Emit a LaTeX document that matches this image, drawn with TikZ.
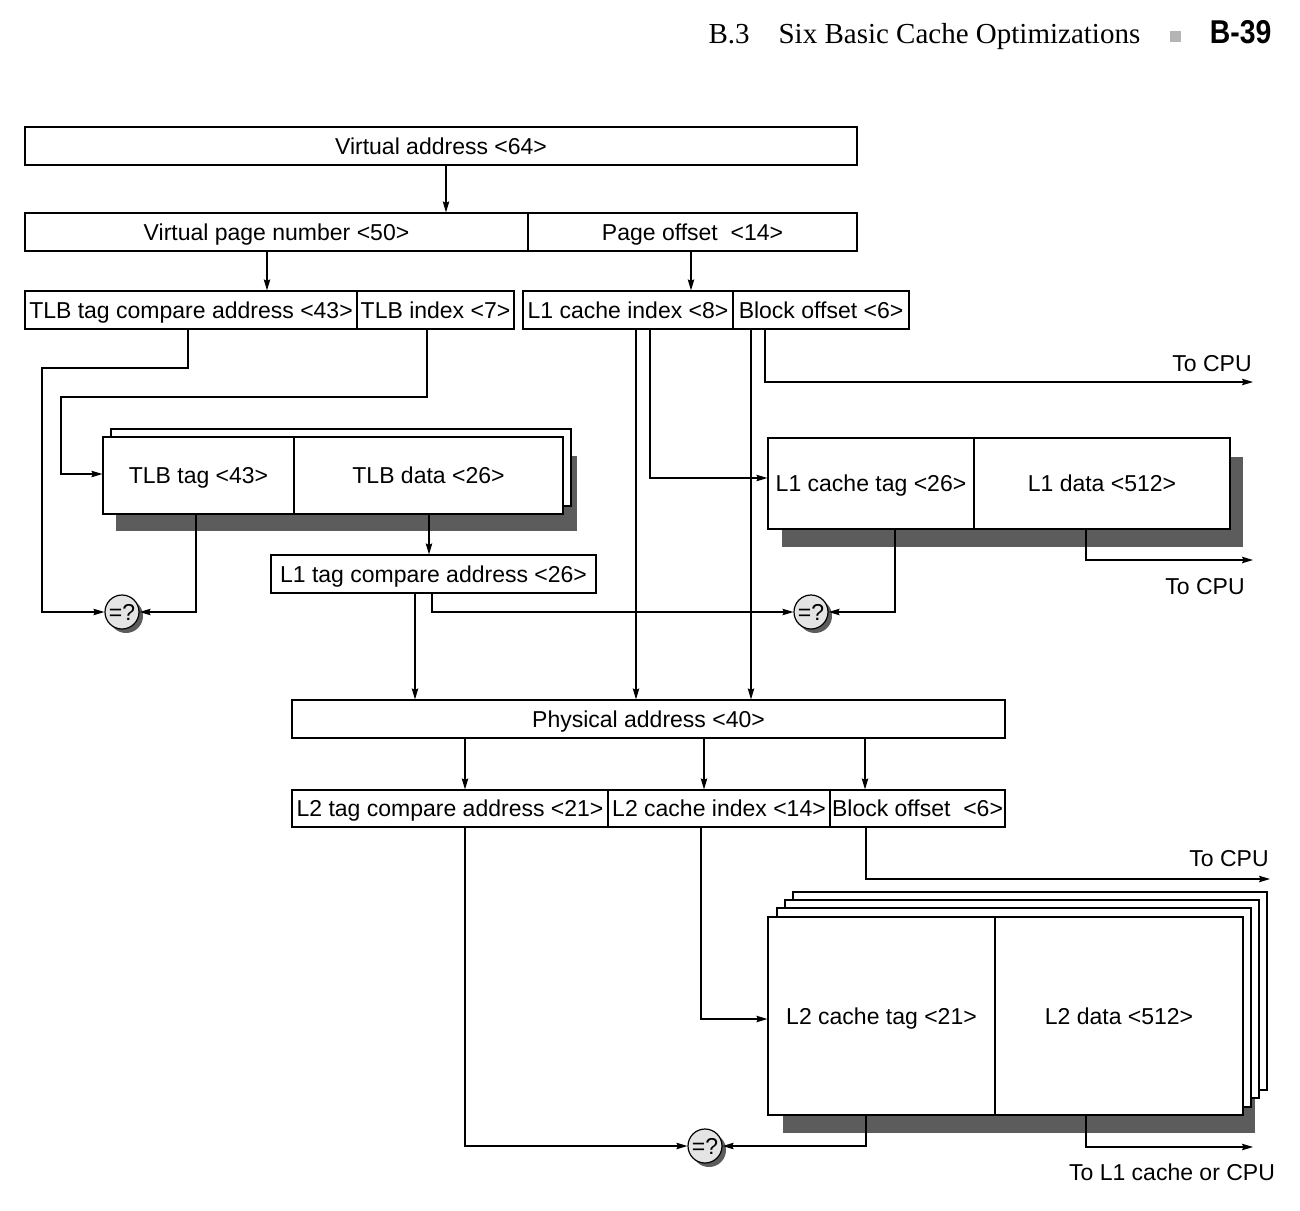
\documentclass[tikz,border=0pt]{standalone}
\usepackage{fontspec}
\setmainfont{Liberation Sans}
\newfontfamily\hdrserif{Liberation Serif}
\usetikzlibrary{arrows.meta}
\definecolor{shadowgray}{HTML}{5C5C5C}
\definecolor{cmpfill}{HTML}{E4E4E4}
\definecolor{sqgray}{HTML}{B4B4B4}
\newcommand\fieldbox[6]{%
  \node[fld, minimum width={(#4)-(#2)}, minimum height={(#5)-(#3)}] (#1) at ({((#2)+(#4))/2},{((#3)+(#5))/2}) {#6};}
\begin{document}
\begin{tikzpicture}[x=1pt,y=-1pt,line width=1.2pt,
  fld/.style={draw, fill=white, inner sep=0pt, text height=16.5pt, text depth=0pt, font=\fontsize{23}{27}\selectfont},
  arr/.style={-{Stealth[length=11pt,width=6.5pt,inset=1.5pt]}},
  cmp/.style={circle, draw, fill=cmpfill, minimum size=34pt, inner sep=0pt, text height=16.5pt, text depth=0pt, font=\fontsize{23}{27}\selectfont},
  lbl/.style={inner sep=0pt, text height=16.5pt, text depth=0pt, font=\fontsize{23}{27}\selectfont},
  hdr/.style={anchor=base west, inner sep=0pt, font=\hdrserif\fontsize{29}{33}\selectfont}]
\useasboundingbox (0,0) rectangle (1300,1210);
% header
\node[hdr] (sec) at (708,43) {B.3};
\node[hdr] (title) at (778,43) {Six Basic Cache Optimizations};
\fill[sqgray] (1170,31) rectangle (1181,42);
\node[anchor=base east, inner sep=0pt, font=\bfseries\fontsize{33}{37}\selectfont] (page) at (1272,43) {\scalebox{0.86}[1]{B-39}};
% address rows
\fieldbox{va}{25}{127}{857}{165}{Virtual address <64>}
\fieldbox{vpn}{25}{213}{528}{251}{Virtual page number <50>}
\fieldbox{po}{528}{213}{857}{251}{Page offset~ <14>}
\fieldbox{tca}{25}{291}{357}{329}{TLB tag compare address <43>}
\fieldbox{tlbi}{357}{291}{514}{329}{TLB index <7>}
\fieldbox{l1i}{523}{291}{733}{329}{L1 cache index <8>}
\fieldbox{bo}{733}{291}{909}{329}{Block offset <6>}
% TLB
\fill[shadowgray] (116,456) rectangle (577,531);
\draw[fill=white] (111,429) rectangle (571,506);
\fieldbox{tlbtag}{103}{437}{294}{514}{TLB tag <43>}
\fieldbox{tlbdata}{294}{437}{563}{514}{TLB data <26>}
% L1 cache
\fill[shadowgray] (782,457) rectangle (1243,547);
\fieldbox{l1tag}{768}{438}{974}{529}{L1 cache tag <26>}
\fieldbox{l1data}{974}{438}{1230}{529}{L1 data <512>}
\fieldbox{l1tca}{271}{555}{596}{593}{L1 tag compare address <26>}
% physical address
\fieldbox{pa}{292}{700}{1005}{738}{Physical address <40>}
\fieldbox{l2tca}{292}{790}{608}{827}{L2 tag compare address <21>}
\fieldbox{l2i}{608}{790}{830}{827}{L2 cache index <14>}
\fieldbox{l2bo}{830}{790}{1005}{827}{Block offset~ <6>}
% L2 cache
\fill[shadowgray] (783,1000) rectangle (1255,1133);
\draw[fill=white] (793,892) rectangle (1267,1090);
\draw[fill=white] (785,900) rectangle (1259,1098);
\draw[fill=white] (777,908) rectangle (1251,1107);
\fieldbox{l2tag}{768}{917}{995}{1115}{L2 cache tag <21>}
\fieldbox{l2data}{995}{917}{1243}{1115}{L2 data <512>}
% comparators
\fill[shadowgray] (126,616) circle (17pt);
\node[cmp] (c1) at (122,612) {=?};
\fill[shadowgray] (815,616) circle (17pt);
\node[cmp] (c2) at (811,612) {=?};
\fill[shadowgray] (709,1150) circle (17pt);
\node[cmp] (c3) at (705,1146) {=?};
% labels
\node[lbl] (tocpu1) at (1212,363) {To CPU};
\node[lbl] (tocpu2) at (1205,586) {To CPU};
\node[lbl] (tocpu3) at (1229,858) {To CPU};
\node[lbl] (tol1) at (1172,1172) {To L1 cache or CPU};
\coordinate (cpu1) at (1253,382);
\coordinate (cpu2) at (1253,560);
\coordinate (cpu3) at (1270,879);
\coordinate (cpu4) at (1253,1147);
% connectors
\draw[arr] (va.south -| 446,0) -- (vpn.north -| 446,0);
\draw[arr] (vpn.south -| 267,0) -- (tca.north -| 267,0);
\draw[arr] (po.south -| 691,0) -- (l1i.north -| 691,0);
\draw[arr] (tca.south -| 188,0) -- (188,368) -- (42,368) |- (c1.west);
\draw[arr] (tlbi.south -| 427,0) -- (427,397) -- (61,397) -- (61,474) -- (tlbtag.west |- 0,474);
\draw[arr] (tlbtag.south -| 196,0) |- (c1.east);
\draw[arr] (tlbdata.south -| 429,0) -- (l1tca.north -| 429,0);
\draw[arr] (l1tca.south -| 415,0) -- (pa.north -| 415,0);
\draw[arr] (l1tca.south -| 432,0) |- (c2.west);
\draw[arr] (l1i.south -| 636,0) -- (pa.north -| 636,0);
\draw[arr] (l1i.south -| 650,0) -- (650,478) -- (l1tag.west |- 0,478);
\draw[arr] (bo.south -| 751,0) -- (pa.north -| 751,0);
\draw[arr] (bo.south -| 765,0) |- (cpu1);
\draw[arr] (l1tag.south -| 895,0) |- (c2.east);
\draw[arr] (l1data.south -| 1086,0) |- (cpu2);
\draw[arr] (pa.south -| 465,0) -- (l2tca.north -| 465,0);
\draw[arr] (pa.south -| 704,0) -- (l2i.north -| 704,0);
\draw[arr] (pa.south -| 865,0) -- (l2bo.north -| 865,0);
\draw[arr] (l2bo.south -| 866,0) |- (cpu3);
\draw[arr] (l2i.south -| 701,0) -- (701,1019) -- (l2tag.west |- 0,1019);
\draw[arr] (l2tca.south -| 465,0) |- (c3.west);
\draw[arr] (l2tag.south -| 866,0) |- (c3.east);
\draw[arr] (l2data.south -| 1086,0) |- (cpu4);
\end{tikzpicture}
\end{document}
